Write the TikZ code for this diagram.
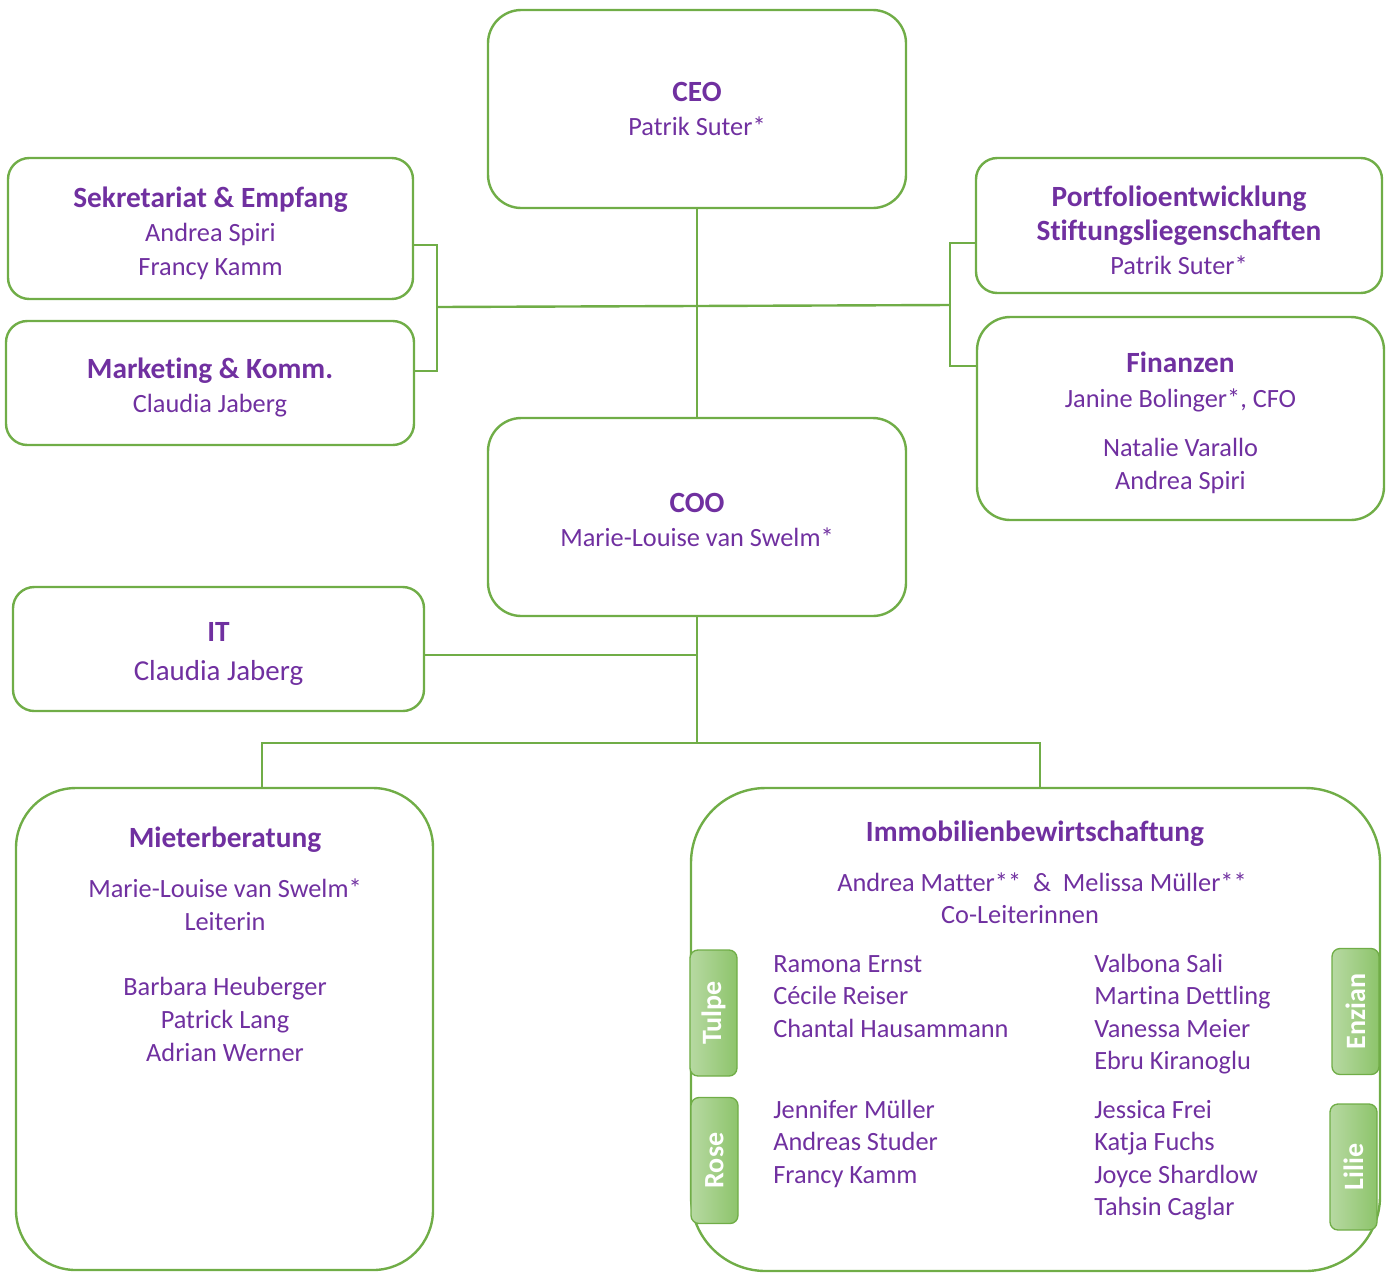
\documentclass[tikz,border=0pt]{standalone}
\usepackage{fontspec}
\setmainfont[Ligatures={NoCommon}]{Carlito}
\usetikzlibrary{positioning,calc}
\definecolor{orggreen}{HTML}{70AD47}
\definecolor{orgpurple}{HTML}{7030A0}
\definecolor{tabl}{HTML}{B7D9A2}
\definecolor{tabr}{HTML}{8DC46B}
\newcommand{\ttl}[1]{{\fontsize{22}{26}\selectfont\bfseries #1}}
\newcommand{\ttlstrut}{\rule{0pt}{22pt}}
\def\u{0.75pt}

\begin{document}
\begin{tikzpicture}[x=0.75pt,y=-0.75pt,
  every node/.append style={font=\fontsize{19.75}{25}\selectfont},
  orgbox/.style={draw=orggreen,line width=1.8pt,rounded corners=16pt,align=center,text=orgpurple,inner sep=0pt},
  leadbox/.style={orgbox,rounded corners=25pt},
  unitbox/.style={draw=orggreen,line width=1.8pt,inner sep=0pt},
  member/.style={text=orgpurple,inner sep=0pt,anchor=base west},
  teamtab/.style={draw=orggreen,line width=1pt,rounded corners=6pt,
    left color=tabl,right color=tabr,text=white,font=\fontsize{21}{24}\selectfont\bfseries,
    minimum width=47*\u,minimum height=126*\u,inner sep=0pt},
  orgline/.style={draw=orggreen,line width=1.8pt}]

  \useasboundingbox (0,0) rectangle (1394,1272);

  % management
  \node[leadbox,minimum width=418*\u,minimum height=198*\u] (ceo) at (697,109)
    {\ttl{CEO}\\Patrik Suter*};
  \node[leadbox,minimum width=418*\u,minimum height=198*\u] (coo) at (697,517)
    {\rule{0pt}{19pt}\ttl{COO}\\Marie-Louise van Swelm*};

  % staff
  \node[orgbox,minimum width=405*\u,minimum height=141*\u] (sekr) at (210.5,228.5)
    {\ttlstrut\ttl{Sekretariat \& Empfang}\\[1pt]Andrea Spiri\\Francy Kamm};
  \node[orgbox,minimum width=408*\u,minimum height=124*\u] (mark) at (210,383)
    {\ttlstrut\ttl{Marketing \& Komm.}\\[1pt]Claudia Jaberg};
  \node[orgbox,minimum width=406*\u,minimum height=135*\u] (port) at (1179,225.5)
    {\ttlstrut\ttl{Portfolioentwicklung}\\[1pt]\ttl{Stiftungsliegenschaften}\\Patrik Suter*};
  \node[leadbox,minimum width=407*\u,minimum height=203*\u] (fin) at (1180.5,418.5)
    {\ttlstrut\ttl{Finanzen}\\[1pt]Janine Bolinger*, CFO\\[12pt]Natalie Varallo\\Andrea Spiri};
  \node[orgbox,minimum width=411*\u,minimum height=124*\u] (it) at (218.5,649)
    {\ttlstrut\ttl{IT}\\[4pt]{\fontsize{21.7}{26}\selectfont Claudia Jaberg}};

  % units
  \node[unitbox,rounded corners=45pt,minimum width=417*\u,minimum height=482*\u] (mieter) at (224.5,1029) {};
  \node[unitbox,rounded corners=56pt,minimum width=689*\u,minimum height=483*\u] (immo) at (1035.5,1029.5) {};

  \node[align=center,anchor=north,inner sep=0pt,text=orgpurple,font=\fontsize{19.75}{24.5}\selectfont] (mieterTxt) at (225,827)
    {\ttl{Mieterberatung}\\[13pt]Marie-Louise van Swelm*\\Leiterin\\[24.5pt]Barbara Heuberger\\Patrick Lang\\Adrian Werner};

  \node[anchor=north,inner sep=0pt,text=orgpurple] (immoTitle) at (1035,821) {\ttl{Immobilienbewirtschaftung}};
  \node[anchor=base,inner sep=0pt,text=orgpurple] (immoLead) at (1042,891) {Andrea Matter**~~\&~~Melissa Müller**};
  \node[anchor=base,inner sep=0pt,text=orgpurple] (immoCo) at (1020,923) {Co-Leiterinnen};

  % teams
  \foreach \who [count=\i from 0] in {Ramona Ernst,Cécile Reiser,Chantal Hausammann}
    \node[member] (tulpe\i) at (773,972+32.5*\i) {\who};
  \foreach \who [count=\i from 0] in {Jennifer Müller,Andreas Studer,Francy Kamm}
    \node[member] (rose\i) at (773,1118+32.5*\i) {\who};
  \foreach \who [count=\i from 0] in {Valbona Sali,Martina Dettling,Vanessa Meier,Ebru Kiranoglu}
    \node[member] (enzian\i) at (1094,972+32.5*\i) {\who};
  \foreach \who [count=\i from 0] in {Jessica Frei,Katja Fuchs,Joyce Shardlow,Tahsin Caglar}
    \node[member] (lilie\i) at (1094,1118+32.5*\i) {\who};

  \node[teamtab] (tabTulpe) at (713.5,1013) {\rotatebox{90}{Tulpe}};
  \node[teamtab] (tabRose) at (714.5,1160.5) {\rotatebox{90}{Rose}};
  \node[teamtab] (tabEnzian) at (1355.5,1011.5) {\rotatebox{90}{Enzian}};
  \node[teamtab] (tabLilie) at (1353.5,1167) {\rotatebox{90}{Lilie}};

  % connectors
  \coordinate (lbr) at (437,307);
  \coordinate (rbr) at (950,305);
  \coordinate (jl) at (262,744);
  \coordinate (jr) at (1040,743);

  \draw[orgline] (ceo.south) -- (coo.north);
  \draw[orgline] ($(sekr.east)+(0,16.5)$) -| (lbr) |- ($(mark.east)+(0,-12)$);
  \draw[orgline] ($(port.west)+(0,17.5)$) -| (rbr) |- ($(fin.west)+(0,-52.5)$);
  \draw[orgline] (lbr) -- (rbr);

  \draw[orgline] (coo.south) -- (coo.south |- jr);
  \draw[orgline] ($(it.east)+(0,6)$) -| (coo.south);
  \draw[orgline] (jl |- mieter.north) |- (jr) -- (jr |- immo.north);

\end{tikzpicture}
\end{document}
